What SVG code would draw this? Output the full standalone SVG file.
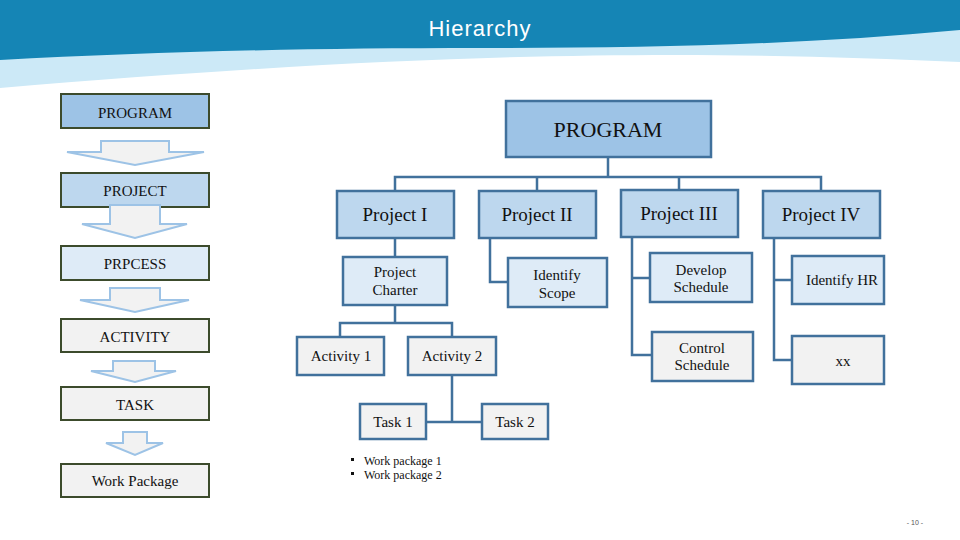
<svg xmlns="http://www.w3.org/2000/svg" width="960" height="540" viewBox="0 0 960 540">
<style>
.t{font-family:"Liberation Serif",serif;fill:#111;text-anchor:middle}
.l{stroke:#3c4b2c;stroke-width:2}
.r{stroke:#41719c;stroke-width:2.5}
.c1{fill:#9dc3e6}.c2{fill:#bdd7ee}.c3{fill:#deebf7}.c4{fill:#f2f2f2}
.ar{fill:#f2f2f2;stroke:#9dc3e6;stroke-width:2}
.cn{fill:none;stroke:#41719c;stroke-width:2.5}
</style>
<rect width="960" height="540" fill="#fff"/>
<path d="M0 0H960V62C700 50 450 50 0 88Z" fill="#cce9f7"/>
<path d="M0 0H960V30C800 45 650 48 480 48C300 48 150 52 0 60Z" fill="#1585b5"/>
<text x="480" y="36" font-family="Liberation Sans Narrow,Liberation Sans,sans-serif" font-size="22" fill="#fff" text-anchor="middle" letter-spacing="1">Hierarchy</text>
<g id="left">
<g id="l1"><rect x="61" y="94" width="148" height="34" class="l c1"/><text x="135" y="118" class="t" font-size="15">PROGRAM</text></g>
<g id="l2"><rect x="61" y="173" width="148" height="34" class="l c2"/><text x="135" y="196" class="t" font-size="15">PROJECT</text></g>
<g id="l3"><rect x="61" y="246" width="148" height="34" class="l c3"/><text x="135" y="269" class="t" font-size="15">PRPCESS</text></g>
<g id="l4"><rect x="61" y="319" width="148" height="33" class="l c4"/><text x="135" y="342" class="t" font-size="15">ACTIVITY</text></g>
<g id="l5"><rect x="61" y="387" width="148" height="33" class="l c4"/><text x="135" y="410" class="t" font-size="15">TASK</text></g>
<g id="l6"><rect x="61" y="464" width="148" height="33" class="l c4"/><text x="135" y="486" class="t" font-size="15">Work Package</text></g>
<path class="ar" d="M101 141H169V152H204L135 165L67 152H101Z"/>
<path class="ar" d="M110 205H160V224H187L135 238L82 224H110Z"/>
<path class="ar" d="M110 288H160V300H189L135 312L80 300H110Z"/>
<path class="ar" d="M113 361H155V371H176L135 382L91 371H113Z"/>
<path class="ar" d="M123 432H147V443H163L135 455L106 443H123Z"/>
</g>
<g id="connectors">
<path class="cn" d="M608 157V177M395 191V177H821V191M537 177V191M679 177V190"/>
<path class="cn" d="M395 238V257M490 238V282H508M632 237V355H652M632 278H650M774 238V360H792M774 280H792"/>
<path class="cn" d="M395 305V323M340 337V323H452V337M452 375V422M426 422H482"/>
</g>
<g id="program"><rect x="506" y="101" width="205" height="56" class="r c1"/><text x="608" y="137" class="t" font-size="22">PROGRAM</text></g>
<g id="p1"><rect x="337" y="191" width="117" height="47" class="r c2"/><text x="395" y="221" class="t" font-size="19">Project I</text></g>
<g id="p2"><rect x="479" y="191" width="117" height="47" class="r c2"/><text x="537" y="221" class="t" font-size="19">Project II</text></g>
<g id="p3"><rect x="621" y="190" width="117" height="47" class="r c2"/><text x="679" y="220" class="t" font-size="19">Project III</text></g>
<g id="p4"><rect x="763" y="191" width="117" height="47" class="r c2"/><text x="821" y="221" class="t" font-size="19">Project IV</text></g>
<g id="charter"><rect x="343" y="257" width="104" height="48" class="r c3"/><text x="395" y="277" class="t" font-size="15">Project</text><text x="395" y="295" class="t" font-size="15">Charter</text></g>
<g id="scope"><rect x="508" y="258" width="99" height="49" class="r c3"/><text x="557" y="280" class="t" font-size="15">Identify</text><text x="557" y="298" class="t" font-size="15">Scope</text></g>
<g id="dev"><rect x="650" y="253" width="102" height="49" class="r c3"/><text x="701" y="275" class="t" font-size="15">Develop</text><text x="701" y="292" class="t" font-size="15">Schedule</text></g>
<g id="ctrl"><rect x="652" y="332" width="101" height="49" class="r c4"/><text x="702" y="353" class="t" font-size="15">Control</text><text x="702" y="370" class="t" font-size="15">Schedule</text></g>
<g id="hr"><rect x="792" y="256" width="92" height="48" class="r c3"/><text x="842" y="285" class="t" font-size="15">Identify HR</text></g>
<g id="xx"><rect x="792" y="336" width="92" height="48" class="r c4"/><text x="843" y="366" class="t" font-size="15">xx</text></g>
<g id="a1"><rect x="297" y="337" width="87" height="38" class="r c4"/><text x="341" y="361" class="t" font-size="15">Activity 1</text></g>
<g id="a2"><rect x="408" y="337" width="88" height="38" class="r c4"/><text x="452" y="361" class="t" font-size="15">Activity 2</text></g>
<g id="t1"><rect x="360" y="404" width="66" height="35" class="r c4"/><text x="393" y="427" class="t" font-size="15">Task 1</text></g>
<g id="t2"><rect x="482" y="404" width="66" height="35" class="r c4"/><text x="515" y="427" class="t" font-size="15">Task 2</text></g>
<g id="wp">
<rect x="351" y="458" width="3" height="3" fill="#111"/><rect x="351" y="472" width="3" height="3" fill="#111"/>
<text x="364" y="465" font-family="Liberation Serif,serif" font-size="12" fill="#111">Work package 1</text>
<text x="364" y="479" font-family="Liberation Serif,serif" font-size="12" fill="#111">Work package 2</text>
</g>
<text x="915" y="525" font-family="Liberation Sans,sans-serif" font-size="7" fill="#555" text-anchor="middle">- 10 -</text>
</svg>
